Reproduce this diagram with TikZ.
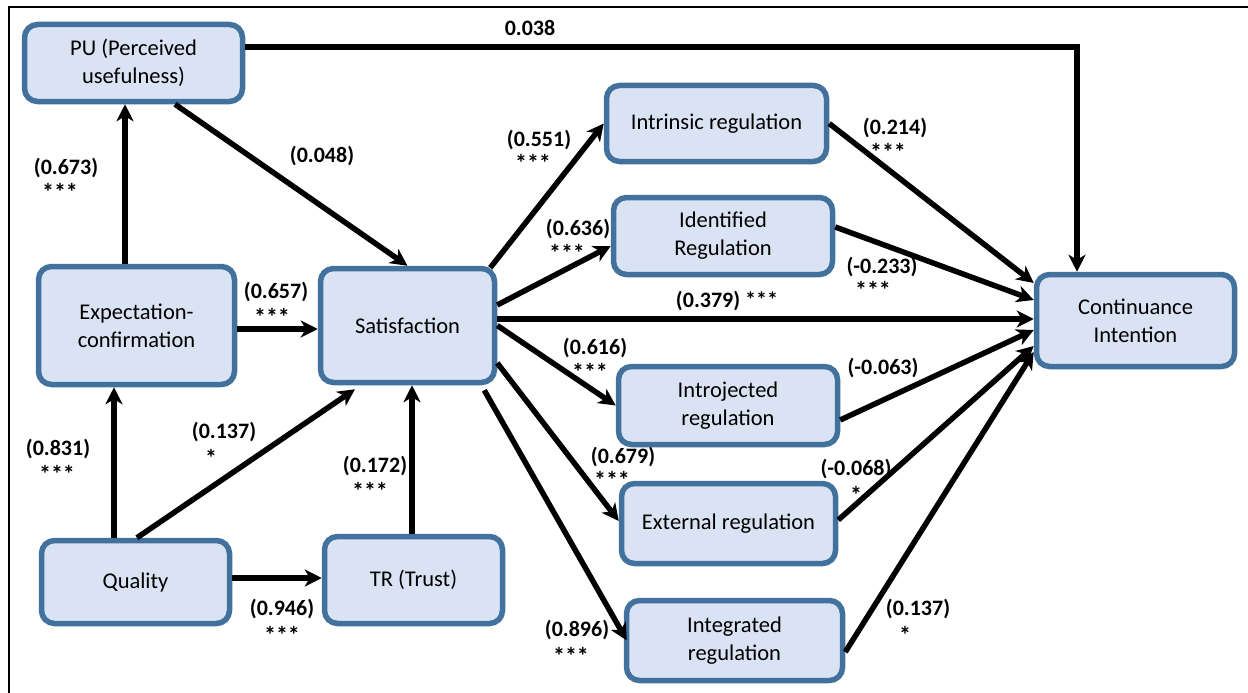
\documentclass[tikz,border=0pt]{standalone}
\usepackage{fontspec}
\setmainfont{Carlito}
\usetikzlibrary{arrows.meta}
\definecolor{boxfill}{HTML}{DAE3F3}
\definecolor{boxline}{HTML}{41719C}
\begin{document}
\begin{tikzpicture}[x=1pt,y=-1pt,
  box/.style={draw=boxline,fill=boxfill,line width=5.5pt,rounded corners=13pt,
    align=center,font=\fontsize{22.5}{28}\selectfont,inner sep=0pt},
  conn/.style={line width=5.5pt,-{Stealth[length=17pt,width=17pt,inset=5pt]}},
  lab/.style={font=\bfseries\fontsize{22}{24}\selectfont,inner sep=0pt},
  stars/.style={font=\bfseries\fontsize{24}{24}\selectfont,inner sep=0pt}]
\useasboundingbox (0,0) rectangle (1248,693);
\coordinate (fa) at (9,693);
\coordinate (fb) at (9,7);
\coordinate (fc) at (1248,7);
\draw[line width=2pt] (fa) -- (fb) -- (fc);
% nodes
\node[box,minimum width=218pt,minimum height=77pt] (PU) at (133.5,63) {PU (Perceived\\usefulness)};
\node[box,minimum width=196pt,minimum height=118pt] (EC) at (136.5,325.5) {Expectation-\\confirmation};
\node[box,minimum width=174pt,minimum height=114pt] (SAT) at (407.5,325.5) {Satisfaction};
\node[box,minimum width=188pt,minimum height=83pt] (QU) at (135.5,582) {Quality};
\node[box,minimum width=178pt,minimum height=87pt] (TR) at (413.5,580) {TR (Trust)};
\node[box,minimum width=220pt,minimum height=76pt] (INT) at (716.5,123.5) {Intrinsic regulation};
\node[box,minimum width=219pt,minimum height=77pt] (IDE) at (723,236) {Identified\\Regulation};
\node[box,minimum width=219pt,minimum height=78pt] (INJ) at (728,405.5) {Introjected\\regulation};
\node[box,minimum width=214pt,minimum height=80pt] (EXT) at (728.5,523.5) {External regulation};
\node[box,minimum width=216pt,minimum height=80pt] (ING) at (734.5,640.5) {Integrated\\regulation};
\node[box,minimum width=198pt,minimum height=92pt] (CI) at (1135.5,320.5) {Continuance\\Intention};
% connectors
\draw[conn] ([xshift=-11.5pt]EC.north) -- ([xshift=-8.5pt]PU.south);
\draw[conn] ([xshift=41.5pt]PU.south) -- (SAT.north);
\draw[conn] ([yshift=16pt]PU.east) -| ([xshift=-58.5pt]CI.north);
\draw[conn] ([yshift=-3.5pt]EC.east) -- ([yshift=-3.5pt]SAT.west);
\draw[conn] ([xshift=-21.5pt]QU.north) -- ([xshift=-22.5pt]EC.south);
\draw[conn] ([xshift=1.5pt]QU.north) -- ([xshift=-52.5pt,yshift=-4pt]SAT.south);
\draw[conn] ([xshift=-1.5pt]TR.north) -- ([xshift=4.5pt]SAT.south);
\draw[conn] ([yshift=4pt]QU.east) -- ([yshift=2pt]TR.west);
\draw[conn] ([xshift=-7pt,yshift=-2pt]SAT.north east) -- (INT.west);
\draw[conn] ([yshift=20.5pt]SAT.east) -- ([yshift=-10pt]IDE.west);
\draw[conn] ([yshift=6.5pt]SAT.east) -- ([yshift=1.5pt]CI.west);
\draw[conn] (SAT.east) -- (INJ.west);
\draw[conn] ([yshift=-37.5pt]SAT.east) -- ([yshift=2.5pt]EXT.west);
\draw[conn] ([xshift=-13pt,yshift=-5pt]SAT.south east) -- ([xshift=3pt]ING.west);
\draw[conn] (INT.east) -- ([yshift=37.5pt]CI.west);
\draw[conn] ([yshift=9pt]IDE.east) -- ([yshift=20.5pt]CI.west);
\draw[conn] ([yshift=-14.5pt]INJ.east) -- ([yshift=-9.5pt]CI.west);
\draw[conn] ([yshift=3.5pt]EXT.east) -- ([yshift=-25.5pt]CI.west);
\draw[conn] ([yshift=-11.5pt]ING.east) -- ([yshift=-31.5pt]CI.west);
% labels
\node[lab] (l1) at (530,28) {0.038};
\node[lab] (l2) at (66,168) {(0.673)};
\node[stars] (l2s) at (60,192) {***};
\node[lab] (l3) at (322,156) {(0.048)};
\node[lab] (l4) at (276,292) {(0.657)};
\node[stars] (l4s) at (272,317) {***};
\node[lab] (l5) at (58,449) {(0.831)};
\node[stars] (l5s) at (57,474) {***};
\node[lab] (l6) at (224,432) {(0.137)};
\node[stars] (l6s) at (211,458) {*};
\node[lab] (l7) at (375,466) {(0.172)};
\node[stars] (l7s) at (370,491) {***};
\node[lab] (l8) at (282,609) {(0.946)};
\node[stars] (l8s) at (282,635) {***};
\node[lab] (l9) at (539,140) {(0.551)};
\node[stars] (l9s) at (533,163) {***};
\node[lab] (l10) at (578,229) {(0.636)};
\node[stars] (l10s) at (567,253) {***};
\node[lab] (l11) at (727,301) {(0.379) ***};
\node[lab] (l12) at (595,348) {(0.616)};
\node[stars] (l12s) at (590,372) {***};
\node[lab] (l13) at (623,457) {(0.679)};
\node[stars] (l13s) at (612,480) {***};
\node[lab] (l14) at (577,630) {(0.896)};
\node[stars] (l14s) at (571,656) {***};
\node[lab] (l15) at (895,128) {(0.214)};
\node[stars] (l15s) at (888,152) {***};
\node[lab] (l16) at (882,267) {(-0.233)};
\node[stars] (l16s) at (873,290) {***};
\node[lab] (l17) at (883,368) {(-0.063)};
\node[lab] (l18) at (856,469) {(-0.068)};
\node[stars] (l18s) at (856,495) {*};
\node[lab] (l19) at (918,609) {(0.137)};
\node[stars] (l19s) at (905,635) {*};
\end{tikzpicture}
\end{document}
